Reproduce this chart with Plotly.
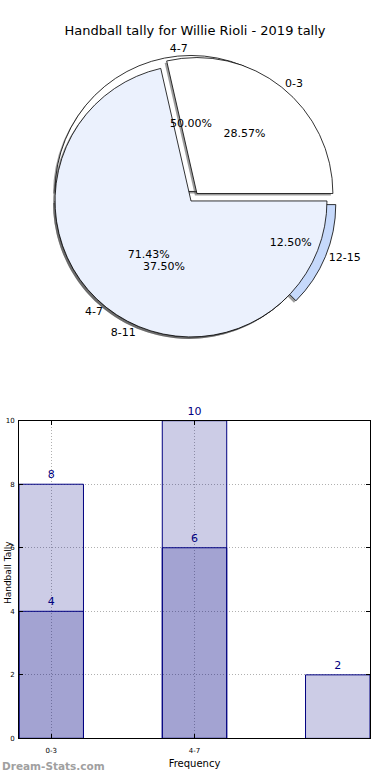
import plotly.graph_objects as go

# ---- data ----
title_text = "Handball tally for Willie Rioli - 2019 tally"
pie1_labels = ["0-3", "4-7"]
pie1_values = [4, 10]
pie2_labels = ["4-7", "8-11", "12-15"]
pie2_values = [8, 6, 2]

bar_categories = ["0-3", "4-7", "8-11"]
bar_total = [8, 10, 2]
bar_part = [4, 6]
bar_ticklabels = ["0-3", "4-7"]
y_ticks = [0, 2, 4, 6, 8, 10]

# ---- styles ----
FONT = "DejaVu Sans"
W, H = 390, 780
pie1_colors = ["#ffffff", "#ebf1fd"]
pie2_colors = ["#ffffff", "#ebf1fd", "#c6d9fb"]
pie1_pull = [0.07, 0.0]
pie2_pull = [0.07, 0.0, 0.07]

cx, cy, half = 191, 199, 147
dom_x = [(cx - half) / W, (cx + half) / W]
dom_y = [1 - (cy + half) / H, 1 - (cy - half) / H]


def shifted(dom, d):
    return [dom[0] + d, dom[1] + d]


def rev(seq):
    # matplotlib draws counterclockwise from 3 o'clock; plotly clockwise with reversed order
    return list(seq)[::-1]


fig = go.Figure()

common = dict(sort=False, direction="clockwise", rotation=90,
              showlegend=False, hoverinfo="skip")

pies = [
    (pie2_labels, pie2_values, pie2_colors, pie2_pull),
    (pie1_labels, pie1_values, pie1_colors, pie1_pull),
]

# shadows + pies (pie 2 behind pie 1)
for labels, values, colors, pull in pies:
    fig.add_trace(go.Pie(labels=rev(labels), values=rev(values), pull=rev(pull),
                         domain=dict(x=shifted(dom_x, -2 / W), y=shifted(dom_y, -2 / H)),
                         marker=dict(colors=["rgba(60,60,60,0.5)"] * len(labels),
                                     line=dict(width=0)),
                         textinfo="none", **common))
    fig.add_trace(go.Pie(labels=rev(labels), values=rev(values), pull=rev(pull),
                         domain=dict(x=dom_x, y=dom_y),
                         marker=dict(colors=rev(colors), line=dict(color="black", width=0.8)),
                         textinfo="none", **common))

# text layers (transparent)
for labels, values, colors, pull in pies:
    clear = ["rgba(0,0,0,0)"] * len(labels)
    fig.add_trace(go.Pie(labels=rev(labels), values=rev(values), pull=rev(pull),
                         domain=dict(x=dom_x, y=dom_y),
                         marker=dict(colors=clear, line=dict(width=0)),
                         texttemplate="%{percent:.2%}", textposition="inside",
                         insidetextorientation="horizontal",
                         textfont=dict(family=FONT, size=11, color="black"),
                         **common))
    fig.add_trace(go.Pie(labels=rev(labels), values=rev(values), pull=rev(pull),
                         domain=dict(x=dom_x, y=dom_y),
                         marker=dict(colors=clear, line=dict(width=0)),
                         texttemplate="%{label}", textposition="outside",
                         outsidetextfont=dict(family=FONT, size=11, color="black"),
                         **common))

# bars
fig.add_trace(go.Bar(x=bar_categories, y=bar_total, width=0.45,
                     marker=dict(color="rgba(0,0,128,0.2)", line=dict(color="#000080", width=1)),
                     text=[str(v) for v in bar_total], textposition="outside",
                     textfont=dict(family=FONT, size=11, color="#000080"),
                     cliponaxis=False, constraintext="none", showlegend=False,
                     hoverinfo="skip"))
fig.add_trace(go.Bar(x=bar_categories[:len(bar_part)], y=bar_part, width=0.45,
                     marker=dict(color="rgba(0,0,128,0.2)", line=dict(color="#000080", width=1)),
                     text=[str(v) for v in bar_part], textposition="outside",
                     textfont=dict(family=FONT, size=11, color="#000080"),
                     cliponaxis=False, constraintext="none", showlegend=False,
                     hoverinfo="skip"))

grid = dict(showgrid=True, gridcolor="#b0b0b0", griddash="1px,2px", gridwidth=1)

fig.update_layout(
    width=W, height=H,
    margin=dict(l=0, r=0, t=0, b=0),
    paper_bgcolor="white", plot_bgcolor="white",
    barmode="overlay",
    font=dict(family=FONT, color="black"),
    title=dict(text=title_text, x=0.5, xanchor="center", y=1 - 30 / H, yanchor="middle",
               font=dict(family=FONT, size=13, color="black")),
    xaxis=dict(domain=[19 / W, 370 / W], type="category",
               categoryorder="array", categoryarray=bar_categories,
               range=[-0.225, 2.225],
               tickmode="array", tickvals=bar_ticklabels, ticktext=bar_ticklabels,
               tickfont=dict(family=FONT, size=7, color="black"),
               ticks="inside", ticklen=4, tickcolor="black", ticklabelstandoff=5,
               showline=True, linecolor="black", linewidth=1, mirror="ticks",
               title=dict(text="Frequency", font=dict(family=FONT, size=10, color="black"),
                          standoff=6),
               zeroline=False, **grid),
    yaxis=dict(domain=[1 - 742 / H, 1 - 421 / H], range=[0, 10],
               tickmode="array", tickvals=y_ticks,
               tickfont=dict(family=FONT, size=7, color="black"),
               ticks="inside", ticklen=4, tickcolor="black", ticklabelstandoff=2,
               showline=True, linecolor="black", linewidth=1, mirror="ticks",
               zeroline=False, **grid),
    annotations=[
        dict(text="Handball Tally", x=1 / W, y=1 - 575 / H, xref="paper", yref="paper",
             xanchor="left", yanchor="middle", textangle=-90, showarrow=False,
             font=dict(family=FONT, size=9, color="black")),
        dict(text="Dream-Stats.com", x=0, y=1 - 770 / H, xref="paper", yref="paper",
             xanchor="left", yanchor="middle", showarrow=False,
             font=dict(family=FONT, size=10.5, color="#a0a0a0", weight="bold")),
    ],
)

fig.write_html("out.html", config={"displayModeBar": False},
               post_script="document.body.style.margin='0';")
